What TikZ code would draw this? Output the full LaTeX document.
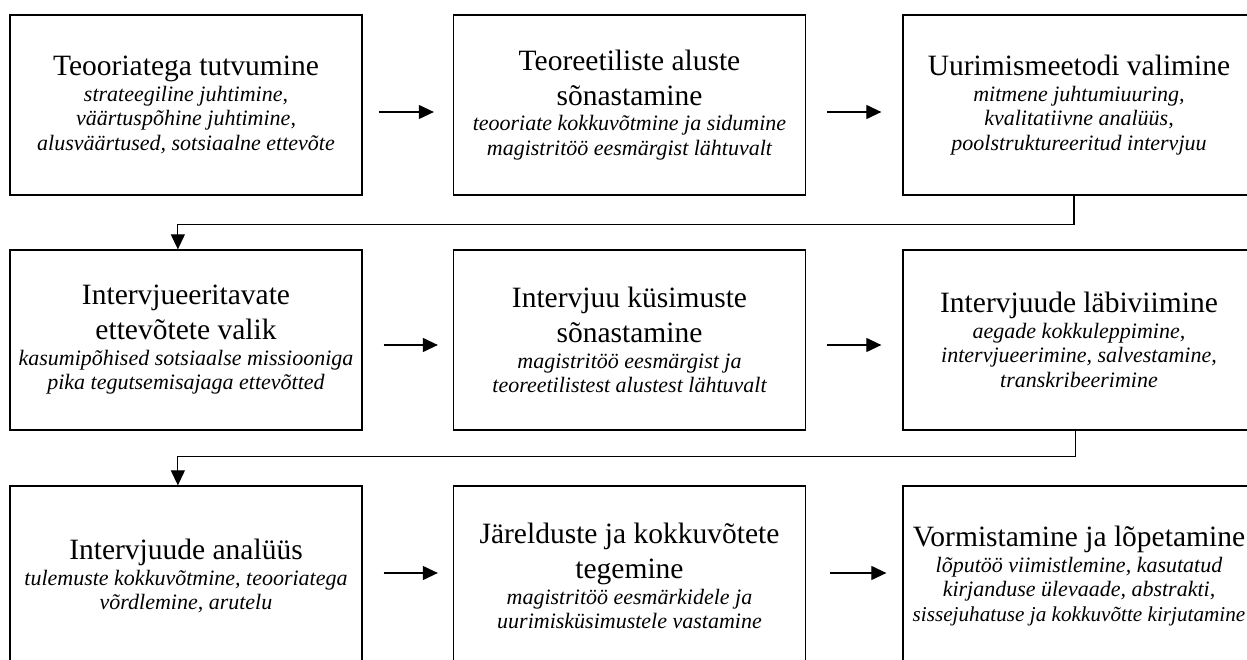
\documentclass[tikz,border=0pt]{standalone}
\usepackage{fontspec}
\setmainfont{Liberation Serif}
\usetikzlibrary{arrows.meta,calc}
\newcommand{\ttl}[1]{{\fontsize{29.5}{35}\selectfont\spaceskip=0.25em\relax #1\par}\vspace{1pt}}
\newcommand{\dsc}[1]{{\fontsize{22}{24.5}\selectfont\itshape\spaceskip=0.25em\relax #1\par}}
\begin{document}
\begin{tikzpicture}[x=1pt,y=-1pt,
  box/.style={draw=black,line width=1.3pt,minimum width=352pt,minimum height=180pt,inner sep=0pt,text width=352pt,align=flush center},
  arr/.style={-{Triangle[length=15pt,width=14pt]},line width=1.2pt}]
\useasboundingbox (0,0) rectangle (1247,660);
% row 1
\node[box] (b1) at (186,105) {\ttl{Teooriatega tutvumine}\dsc{strateegiline juhtimine,\\ väärtuspõhine juhtimine,\\ alusväärtused, sotsiaalne ettevõte}};
\node[box] (b2) at (629.5,105) {\ttl{Teoreetiliste aluste\\ sõnastamine}\dsc{teooriate kokkuvõtmine ja sidumine\\ magistritöö eesmärgist lähtuvalt}};
\node[box] (b3) at (1079,105) {\ttl{Uurimismeetodi valimine}\dsc{mitmene juhtumiuuring,\\ kvalitatiivne analüüs,\\ poolstruktureeritud intervjuu}};
% row 2
\node[box] (b4) at (186,340) {\ttl{Intervjueeritavate\\ ettevõtete valik}\dsc{kasumipõhised sotsiaalse missiooniga\\ pika tegutsemisajaga ettevõtted}};
\node[box] (b5) at (629.5,340) {\ttl{Intervjuu küsimuste\\ sõnastamine}\dsc{magistritöö eesmärgist ja\\ teoreetilistest alustest lähtuvalt}};
\node[box] (b6) at (1079,340) {\ttl{Intervjuude läbiviimine}\dsc{aegade kokkuleppimine,\\ intervjueerimine, salvestamine,\\ transkribeerimine}};
% row 3
\node[box] (b7) at (186,576) {\ttl{Intervjuude analüüs}\dsc{tulemuste kokkuvõtmine, teooriatega\\ võrdlemine, arutelu}};
\node[box] (b8) at (629.5,576) {\ttl{Järelduste ja kokkuvõtete\\ tegemine}\dsc{magistritöö eesmärkidele ja\\ uurimisküsimustele vastamine}};
\node[box] (b9) at (1079,576) {\ttl{Vormistamine ja lõpetamine}\dsc{lõputöö viimistlemine, kasutatud\\ kirjanduse ülevaade, abstrakti,\\ {\fontsize{21.2}{24.5}\selectfont\spaceskip=0.25em\relax sissejuhatuse ja kokkuvõtte kirjutamine}}};
% horizontal arrows
\draw[arr] ($(b1.east)+(16,7)$) -- ($(b2.west)+(-19,7)$);
\draw[arr] ($(b2.east)+(21,7)$) -- ($(b3.west)+(-21,7)$);
\draw[arr] ($(b4.east)+(21,5)$) -- ($(b5.west)+(-15,5)$);
\draw[arr] ($(b5.east)+(21,5)$) -- ($(b6.west)+(-21,5)$);
\draw[arr] ($(b7.east)+(21,-3)$) -- ($(b8.west)+(-15,-3)$);
\draw[arr] ($(b8.east)+(24,-3)$) -- ($(b9.west)+(-16,-3)$);
% elbow connectors
\coordinate (e1) at ($(b3.south west)!0.486!(b3.south east)$);
\coordinate (f1) at ($(b4.north west)!0.477!(b4.north east)$);
\draw[arr] (e1) -- ++(0,29) -| (f1);
\coordinate (e2) at ($(b6.south west)!0.491!(b6.south east)$);
\coordinate (f2) at ($(b7.north west)!0.477!(b7.north east)$);
\draw[arr] (e2) -- ++(0,26) -| (f2);
\end{tikzpicture}
\end{document}
